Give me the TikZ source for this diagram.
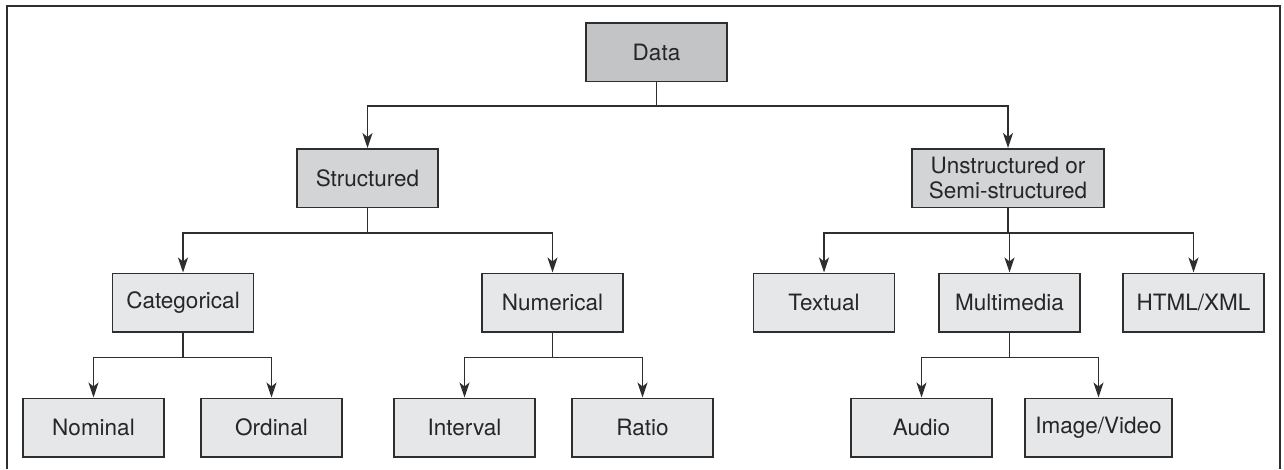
\documentclass[tikz,border=0pt]{standalone}
\usepackage{fontspec}
\setmainfont{TeX Gyre Heros}
\usetikzlibrary{arrows.meta}
\definecolor{linec}{HTML}{2E2E2E}
\definecolor{fillA}{HTML}{C3C4C6}
\definecolor{fillB}{HTML}{D3D4D6}
\definecolor{fillC}{HTML}{E6E7E8}
\begin{document}
\begin{tikzpicture}[x=1pt,y=-1pt,
  box/.style={draw=linec, line width=1.5pt, minimum width=141pt, minimum height=58.5pt,
    inner sep=0pt, font=\fontsize{22.5}{25}\selectfont, text=black!85, align=center},
  lvA/.style={box, fill=fillA},
  lvB/.style={box, fill=fillB},
  lvC/.style={box, fill=fillC},
  arr/.style={draw=linec, line width=1.5pt, -{Stealth[length=15pt,width=10pt,inset=4pt]}}]
\useasboundingbox (0,0) rectangle (1284,469);
\draw[draw=linec, line width=2pt] (7,469) -- (7,6) -- (1280,6) -- (1280,469);

\node[lvA] (data) at (656.5,52) {Data};
\node[lvB] (struct) at (367.5,178) {Structured};
\node[lvB, minimum width=192pt] (unstr) at (1008,178) {Unstructured or\\Semi-structured};

\node[lvC] (cat) at (183,302.5) {Categorical};
\node[lvC] (num) at (552.5,302.5) {Numerical};
\node[lvC] (textual) at (824,302.5) {Textual};
\node[lvC] (multi) at (1009.5,302.5) {Multimedia};
\node[lvC] (html) at (1193.5,302.5) {HTML/XML};

\node[lvC] (nom) at (93.5,427.5) {Nominal};
\node[lvC] (ord) at (271.5,427.5) {Ordinal};
\node[lvC] (int) at (464.5,427.5) {Interval};
\node[lvC] (rat) at (642.5,427.5) {Ratio};
\node[lvC] (aud) at (921.5,427.5) {Audio};
\node[lvC, minimum width=147pt] (img) at (1098.5,427.5) {Image/Video};

\draw[arr] (data.south) -- ++(0,24) -| (struct.north);
\draw[arr] (data.south) -- ++(0,24) -| (unstr.north);

\draw[arr] (struct.south) -- ++(0,25) -| (cat.north);
\draw[arr] (struct.south) -- ++(0,25) -| (num.north);

\draw[arr] (unstr.south) -- ++(0,25) -| (textual.north);
\draw[arr] (unstr.south) -- ++(0,25) -| (multi.north);
\draw[arr] (unstr.south) -- ++(0,25) -| (html.north);

\draw[arr] (cat.south) -- ++(0,25) -| (nom.north);
\draw[arr] (cat.south) -- ++(0,25) -| (ord.north);
\draw[arr] (num.south) -- ++(0,25) -| (int.north);
\draw[arr] (num.south) -- ++(0,25) -| (rat.north);
\draw[arr] (multi.south) -- ++(0,25) -| (aud.north);
\draw[arr] (multi.south) -- ++(0,25) -| (img.north);
\end{tikzpicture}
\end{document}
